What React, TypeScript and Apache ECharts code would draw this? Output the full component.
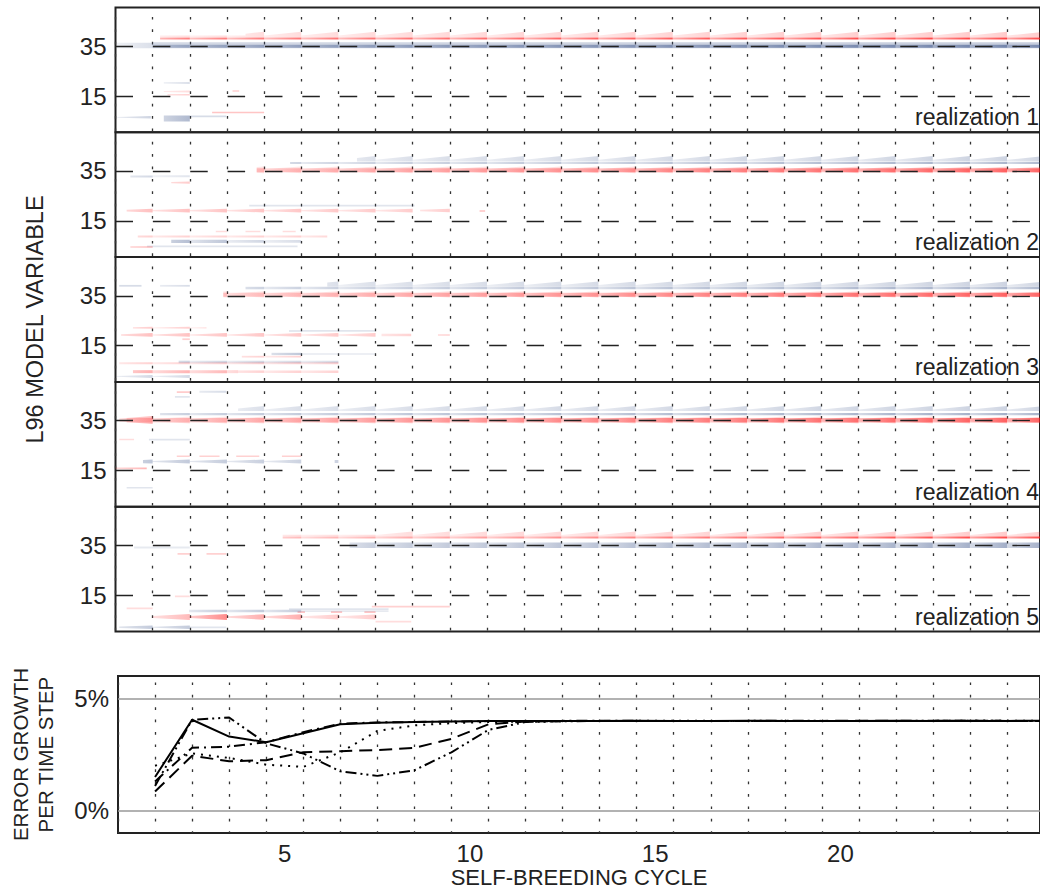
import React, { useEffect, useRef } from 'react';
import * as echarts from 'echarts';

// ---------- data ----------
// cycle boundaries (end of each self-breeding cycle)
const cycles = [1, 2, 3, 4, 5, 6, 7, 8, 9, 10, 11, 12, 13, 14, 15, 16, 17, 18, 19, 20, 21, 22, 23, 24, 25];

// error growth per time step (%), one series per realization
const growthSolid = [1.5, 4.05, 3.3, 3.05, 3.45, 3.85, 3.92, 3.95, 3.97, 3.99, 4.0, 4.0, 4.0, 4.01, 4.0, 4.0, 4.01, 4.0, 4.0, 4.0, 4.01, 4.0, 4.0, 4.0, 4.01];
const growthDashDotDot = [1.1, 4.05, 4.15, 3.0, 2.55, 1.75, 1.55, 1.8, 2.6, 3.6, 3.95, 3.98, 4.0, 4.0, 3.99, 4.0, 4.0, 4.01, 4.0, 4.0, 4.0, 4.01, 4.0, 4.0, 4.0];
const growthDashed = [0.85, 2.45, 2.2, 2.25, 2.6, 2.65, 2.7, 2.8, 3.2, 3.85, 3.97, 3.99, 4.0, 4.0, 4.0, 3.99, 4.0, 4.0, 4.0, 4.01, 4.0, 4.0, 4.01, 4.0, 4.0];
const growthDotted = [2.0, 2.55, 2.35, 2.05, 1.95, 2.6, 3.55, 3.8, 3.9, 3.95, 3.97, 3.99, 4.0, 4.0, 4.01, 4.0, 4.0, 4.0, 3.99, 4.0, 4.0, 4.0, 4.0, 4.01, 4.0];
const growthDashDot = [1.3, 2.8, 2.85, 3.05, 3.5, 3.88, 3.93, 3.95, 3.97, 3.99, 4.0, 4.0, 4.01, 4.0, 4.0, 4.0, 3.99, 4.0, 4.0, 4.0, 4.0, 4.0, 4.01, 4.0, 4.0];

// tick labels
const xTickValues = [4.5, 9.5, 14.5, 19.5];
const xTickLabels = ['5', '10', '15', '20'];
const varTickValues = [15, 35];
const growthTickValues = [0, 5];
const growthTickLabels = ['0%', '5%'];
const realizationNames = ['realization 1', 'realization 2', 'realization 3', 'realization 4', 'realization 5'];

// perturbation bands: [cycleStart, cycleEnd, variable, sign(+1 red / -1 blue), alphaStart, alphaEnd, extentUp, extentDown, shape]
// shape 0 = uniform, 1 = grows in intensity within cycle, 2 = grows in width and intensity within cycle
const R = 1;
const B = -1;
const bands1 = [
  [0.04, 1.0, 35.2, B, 0.14, 0.22, 1.2, 1.0, 1],
  [1.0, 25, 35.3, B, 0.22, 0.28, 1.3, 1.1, 0],
  [1.0, 25, 35.0, B, 0.4, 0.6, 0.6, 0.6, 1],
  [1.2, 25, 38.1, R, 0.55, 0.85, 0.4, 0.4, 1],
  [1.2, 3.5, 38.7, R, 0.14, 0.16, 0.6, 0, 1],
  [3.5, 25, 38.6, R, 0.15, 0.24, 2.2, 0, 2],
  [0.05, 0.95, 6.5, B, 0.25, 0.25, 0.5, 0.5, 2],
  [1.3, 2.0, 6.0, B, 0.4, 0.4, 1.2, 1.2, 1],
  [2.0, 2.98, 6.8, B, 0.2, 0.2, 0.4, 0.3, 0],
  [2.6, 4.0, 8.4, R, 0.25, 0.25, 0.3, 0.3, 0],
  [1.3, 2.0, 20.3, B, 0.18, 0.18, 0.4, 0.4, 2],
  [1.3, 2.0, 16.8, R, 0.15, 0.15, 0.4, 0.4, 2],
  [1.4, 2.0, 15.5, R, 0.2, 0.2, 0.3, 0.3, 1],
  [3.15, 3.33, 17.0, R, 0.2, 0.2, 0.3, 0.3, 0],
];
const bands2 = [
  [3.8, 25, 35.4, R, 0.12, 0.22, 1.4, 1.3, 2],
  [3.8, 25, 35.3, R, 0.25, 0.65, 0.8, 0.8, 1],
  [4.7, 25, 38.2, B, 0.25, 0.45, 0.45, 0.45, 1],
  [6.5, 25, 38.8, B, 0.18, 0.26, 2.2, 0, 2],
  [0.4, 1.0, 32.8, B, 0.22, 0.22, 0.4, 0.4, 1],
  [1.0, 2.0, 32.9, B, 0.15, 0.15, 0.4, 0.4, 1],
  [1.5, 2.0, 30.3, R, 0.22, 0.22, 0.5, 0.4, 2],
  [0.3, 8.0, 19.1, R, 0.28, 0.22, 0.8, 0.7, 2],
  [8.2, 9.0, 19.1, R, 0.22, 0.22, 0.8, 0.6, 2],
  [9.8, 9.95, 19.0, R, 0.2, 0.2, 0.4, 0.4, 0],
  [3.6, 8.05, 21.1, B, 0.15, 0.15, 0.35, 0.35, 0],
  [0.6, 5.7, 8.8, R, 0.2, 0.2, 0.4, 0.4, 1],
  [2.7, 3.0, 10.8, R, 0.15, 0.15, 0.3, 0.3, 0],
  [3.5, 3.9, 10.8, R, 0.15, 0.15, 0.3, 0.3, 0],
  [4.5, 4.85, 10.8, R, 0.15, 0.15, 0.3, 0.3, 0],
  [1.5, 3.0, 6.8, B, 0.38, 0.3, 0.7, 0.7, 1],
  [3.0, 5.0, 6.8, B, 0.25, 0.18, 0.6, 0.6, 1],
  [0.85, 4.9, 4.8, B, 0.15, 0.15, 0.35, 0.35, 0],
  [0.4, 1.0, 4.5, R, 0.22, 0.22, 0.4, 0.4, 1],
];
const bands3 = [
  [2.9, 25, 35.5, R, 0.12, 0.22, 1.3, 1.2, 2],
  [2.9, 25, 35.4, R, 0.2, 0.65, 0.8, 0.8, 1],
  [3.5, 25, 38.1, B, 0.25, 0.45, 0.5, 0.5, 1],
  [0.1, 0.7, 39.0, B, 0.2, 0.2, 0.35, 0.35, 0],
  [1.2, 2.0, 39.0, B, 0.2, 0.2, 0.35, 0.35, 1],
  [5.7, 25, 38.7, B, 0.18, 0.26, 2.0, 0, 2],
  [0.47, 2.45, 22.1, R, 0.22, 0.2, 0.5, 0.3, 2],
  [0.15, 7.0, 19.3, R, 0.28, 0.22, 0.8, 0.7, 2],
  [7.16, 7.96, 19.3, R, 0.2, 0.2, 0.5, 0.5, 1],
  [8.68, 9.0, 19.3, R, 0.15, 0.15, 0.4, 0.4, 1],
  [4.67, 7.0, 20.9, B, 0.15, 0.15, 0.35, 0.35, 0],
  [1.8, 2.0, 17.6, R, 0.2, 0.2, 0.35, 0.35, 0],
  [4.2, 5.0, 11.7, B, 0.32, 0.32, 0.45, 0.45, 1],
  [5.0, 7.0, 11.7, B, 0.12, 0.12, 0.3, 0.3, 0],
  [3.4, 5.0, 10.6, R, 0.2, 0.2, 0.35, 0.35, 1],
  [1.7, 6.0, 8.5, B, 0.25, 0.22, 0.5, 0.5, 1],
  [0.1, 6.0, 8.0, R, 0.2, 0.2, 0.4, 0.4, 1],
  [0.47, 3.3, 4.6, R, 0.35, 0.3, 0.6, 0.6, 1],
  [3.3, 6.0, 4.6, R, 0.2, 0.2, 0.5, 0.5, 1],
  [0.0, 2.0, 2.7, B, 0.22, 0.22, 0.6, 0.6, 2],
];
const bands4 = [
  [0.1, 1.0, 35.2, R, 0.3, 0.3, 1.6, 1.6, 2],
  [1.0, 25, 35.2, R, 0.12, 0.2, 1.4, 1.4, 2],
  [0.3, 25, 35.1, R, 0.25, 0.65, 0.9, 0.9, 1],
  [1.2, 25, 37.6, B, 0.28, 0.48, 0.45, 0.45, 1],
  [3.3, 25, 38.8, B, 0.18, 0.26, 2.0, 0, 2],
  [1.65, 2.0, 46.4, R, 0.22, 0.22, 0.35, 0.35, 0],
  [2.26, 2.98, 46.6, B, 0.2, 0.2, 0.4, 0.4, 1],
  [1.6, 2.0, 44.5, B, 0.15, 0.15, 0.35, 0.35, 0],
  [0.1, 0.5, 27.4, R, 0.15, 0.15, 0.3, 0.3, 0],
  [0.9, 2.0, 27.4, B, 0.15, 0.15, 0.35, 0.35, 0],
  [1.65, 2.0, 20.7, R, 0.2, 0.2, 0.3, 0.3, 0],
  [2.26, 2.8, 20.7, R, 0.2, 0.2, 0.3, 0.3, 0],
  [3.25, 3.87, 20.7, R, 0.2, 0.2, 0.3, 0.3, 0],
  [4.48, 5.0, 20.7, R, 0.2, 0.2, 0.3, 0.3, 0],
  [0.74, 5.0, 18.6, B, 0.32, 0.25, 0.8, 0.8, 2],
  [5.9, 6.0, 18.6, B, 0.25, 0.25, 0.6, 0.6, 0],
  [0.0, 0.84, 15.8, R, 0.35, 0.35, 0.4, 0.3, 1],
  [0.3, 1.0, 8.1, B, 0.15, 0.15, 0.3, 0.3, 0],
];
const bands5 = [
  [4.5, 7.0, 38.7, R, 0.14, 0.16, 0.6, 0, 1],
  [7.0, 25, 38.6, R, 0.15, 0.24, 2.0, 0, 2],
  [4.5, 25, 38.2, R, 0.3, 0.85, 0.4, 0.4, 1],
  [6.3, 25, 35.2, B, 0.28, 0.48, 1.0, 1.2, 1],
  [0.5, 2.0, 34.2, B, 0.12, 0.12, 0.4, 0.4, 0],
  [1.67, 2.0, 31.6, R, 0.2, 0.2, 0.35, 0.35, 0],
  [2.45, 2.98, 31.6, R, 0.2, 0.2, 0.35, 0.35, 0],
  [1.6, 2.0, 14.6, R, 0.15, 0.15, 0.35, 0.35, 0],
  [6.9, 9.0, 10.5, R, 0.2, 0.2, 0.35, 0.35, 0],
  [0.3, 1.0, 9.8, R, 0.15, 0.15, 0.35, 0.35, 0],
  [4.67, 7.35, 9.5, B, 0.15, 0.15, 0.35, 0.35, 0],
  [4.9, 5.1, 8.3, R, 0.25, 0.25, 0.35, 0.35, 0],
  [5.8, 6.1, 8.3, R, 0.25, 0.25, 0.35, 0.35, 0],
  [6.7, 7.0, 8.3, R, 0.25, 0.25, 0.35, 0.35, 0],
  [1.99, 5.0, 8.7, B, 0.3, 0.3, 0.5, 0.5, 1],
  [5.0, 7.35, 8.7, B, 0.12, 0.12, 0.35, 0.35, 0],
  [1.0, 2.0, 6.3, R, 0.3, 0.3, 1.2, 1.2, 2],
  [2.0, 3.0, 6.3, R, 0.5, 0.5, 1.2, 1.2, 2],
  [3.0, 5.0, 6.3, R, 0.35, 0.35, 1.1, 1.1, 2],
  [5.0, 7.0, 6.3, R, 0.22, 0.22, 1.0, 1.0, 2],
  [7.0, 7.96, 4.5, R, 0.15, 0.15, 0.35, 0.35, 0],
  [0.1, 2.0, 2.2, B, 0.3, 0.3, 0.7, 0.7, 2],
  [2.0, 2.98, 2.2, B, 0.15, 0.15, 0.35, 0.35, 0],
];
const panelBands = [bands1, bands2, bands3, bands4, bands5];

// ---------- layout ----------
const FONT = '"Liberation Sans", Arial, Helvetica, sans-serif';
const GRID_LEFT = 115.5;
const GRID_WIDTH = 930;
const PX_PER_CYCLE = 37.37;
const X_MAX = GRID_WIDTH / PX_PER_CYCLE;
const PANEL_TOP = 7.5;
const PANEL_H = 124.8;
const BOTTOM_TOP = 676;
const BOTTOM_H = 160;

const renderBand = (params: any, api: any) => {
  const x0 = api.value(0);
  const x1 = Math.min(api.value(1), X_MAX + 0.5);
  const row = api.value(2);
  const sign = api.value(3);
  const a0 = api.value(4);
  const a1 = api.value(5);
  const up = api.value(6);
  const dn = api.value(7);
  const mode = api.value(8);
  const rgb = sign > 0 ? '255,25,25' : '55,80,135';
  const children: any[] = [];
  for (let k = Math.floor(x0); k < x1; k++) {
    const sa = Math.max(x0, k);
    const sb = Math.min(x1, k + 1);
    if (sb - sa <= 0.001) continue;
    const t = x1 > x0 ? ((sa + sb) / 2 - x0) / (x1 - x0) : 0;
    const a = a0 + (a1 - a0) * t;
    const fa = mode === 2 ? 0.3 + 0.7 * (sa - k) : 1;
    const fb = mode === 2 ? 0.3 + 0.7 * (sb - k) : 1;
    const pts = [
      api.coord([sa, row + up * fa]),
      api.coord([sb, row + up * fb]),
      api.coord([sb, row - dn * fb]),
      api.coord([sa, row - dn * fa]),
    ];
    let fill: any = `rgba(${rgb},${a})`;
    if (mode >= 1) {
      const la = 0.45 + 0.55 * (sa - k);
      const lb = 0.45 + 0.55 * (sb - k);
      fill = new echarts.graphic.LinearGradient(0, 0, 1, 0, [
        { offset: 0, color: `rgba(${rgb},${(a * la).toFixed(3)})` },
        { offset: 1, color: `rgba(${rgb},${(a * lb).toFixed(3)})` },
      ]);
    }
    children.push({ type: 'polygon', shape: { points: pts }, style: { fill } });
  }
  return { type: 'group', children };
};

const buildOption = () => {
  const grids: any[] = [];
  const xAxes: any[] = [];
  const yAxes: any[] = [];
  const series: any[] = [];
  const graphics: any[] = [];

  const dottedSplit = (offset: number) => ({
    show: true,
    lineStyle: { color: '#333', width: 1.3, type: [2.7, 9.7], dashOffset: offset },
  });

  for (let i = 0; i < 5; i++) {
    const top = PANEL_TOP + i * PANEL_H;
    grids.push({ left: GRID_LEFT, top, width: GRID_WIDTH, height: PANEL_H, show: true, borderColor: '#222', borderWidth: 2, backgroundColor: 'transparent' });
    xAxes.push({
      type: 'value', gridIndex: i, min: 0, max: X_MAX, interval: 1,
      axisLine: { show: false }, axisTick: { show: false }, axisLabel: { show: false },
      splitLine: dottedSplit(2.9),
    });
    yAxes.push({
      type: 'value', gridIndex: i, min: 0.5, max: 50.5,
      axisLine: { show: false }, axisTick: { show: false }, splitLine: { show: false },
      axisLabel: {
        show: true, customValues: varTickValues, margin: 9,
        fontFamily: FONT, fontSize: 24, color: '#222',
        formatter: (v: number) => (varTickValues.indexOf(v) >= 0 ? String(v) : ''),
      },
      ...(i === 2
        ? { name: 'L96 MODEL VARIABLE', nameLocation: 'middle', nameGap: 69, nameRotate: 90, nameTextStyle: { fontFamily: FONT, fontSize: 23.5, color: '#222' } }
        : {}),
    });
    series.push({
      type: 'custom', xAxisIndex: i, yAxisIndex: i, renderItem: renderBand, clip: true, z: 2,
      encode: { x: [0, 1], y: 2 }, data: panelBands[i], silent: true,
    });
    series.push({
      type: 'line', xAxisIndex: i, yAxisIndex: i, data: [], z: 5, silent: true,
      markLine: {
        silent: true, symbol: 'none', label: { show: false },
        lineStyle: { color: '#222', width: 1.3, type: [17.5, 19.87], dashOffset: 0 },
        data: varTickValues.map((v) => ({ yAxis: v })),
      },
    });
    graphics.push({
      type: 'text', x: 1039, y: top + PANEL_H - 15, z: 10,
      style: { text: realizationNames[i], font: `23px ${FONT}`, fill: '#222', align: 'right', verticalAlign: 'middle', textAlign: 'right', textVerticalAlign: 'middle' },
    });
  }

  // bottom panel
  grids.push({ left: GRID_LEFT, top: BOTTOM_TOP, width: GRID_WIDTH, height: BOTTOM_H, show: true, borderColor: '#222', borderWidth: 2, backgroundColor: 'transparent' });
  xAxes.push({
    type: 'value', gridIndex: 5, min: 0, max: X_MAX, interval: 1,
    axisLine: { show: false }, axisTick: { show: false },
    axisLabel: {
      show: true, customValues: xTickValues, margin: 8,
      fontFamily: FONT, fontSize: 24, color: '#222',
      formatter: (v: number) => { const k = xTickValues.indexOf(v); return k >= 0 ? xTickLabels[k] : ''; },
    },
    splitLine: dottedSplit(5.5),
    name: 'SELF-BREEDING CYCLE', nameLocation: 'middle', nameGap: 31,
    nameTextStyle: { fontFamily: FONT, fontSize: 22, color: '#222' },
  });
  yAxes.push({
    type: 'value', gridIndex: 5, min: -1, max: 6,
    axisLine: { show: false }, axisTick: { show: false }, splitLine: { show: false },
    axisLabel: {
      show: true, customValues: growthTickValues, margin: 9,
      fontFamily: FONT, fontSize: 24, color: '#222',
      formatter: (v: number) => { const k = growthTickValues.indexOf(v); return k >= 0 ? growthTickLabels[k] : ''; },
    },
    name: 'ERROR GROWTH\nPER TIME STEP', nameLocation: 'middle', nameGap: 60, nameRotate: 90,
    nameTextStyle: { fontFamily: FONT, fontSize: 20.5, color: '#222', lineHeight: 25 },
  });
  series.push({
    type: 'line', xAxisIndex: 5, yAxisIndex: 5, data: [], z: 2, silent: true,
    markLine: {
      silent: true, symbol: 'none', label: { show: false },
      lineStyle: { color: '#999', width: 1.5, type: 'solid' },
      data: growthTickValues.map((v) => ({ yAxis: v })),
    },
  });
  const lineDefs: [number[], any][] = [
    [growthSolid, 'solid'],
    [growthDashed, [13, 7]],
    [growthDotted, [2, 6]],
    [growthDashDot, [11, 5, 2, 5]],
    [growthDashDotDot, [11, 4, 2, 4, 2, 4]],
  ];
  lineDefs.forEach(([vals, type]) => {
    series.push({
      type: 'line', xAxisIndex: 5, yAxisIndex: 5, z: 4, silent: true,
      showSymbol: false, symbol: 'none', clip: true,
      lineStyle: { color: '#000', width: 2, type },
      data: cycles.map((c, j) => [c, vals[j]]),
    });
  });

  return {
    animation: false,
    backgroundColor: '#fff',
    grid: grids,
    xAxis: xAxes,
    yAxis: yAxes,
    series,
    graphic: graphics,
  };
};

export default function App() {
  const ref = useRef<HTMLDivElement>(null);
  useEffect(() => {
    if (!ref.current) return;
    const chart = echarts.init(ref.current, undefined, { renderer: 'svg' });
    chart.setOption(buildOption() as any);
    return () => chart.dispose();
  }, []);
  return <div ref={ref} style={{ position: 'absolute', left: 0, top: 0, width: 1040, height: 889 }} />;
}
